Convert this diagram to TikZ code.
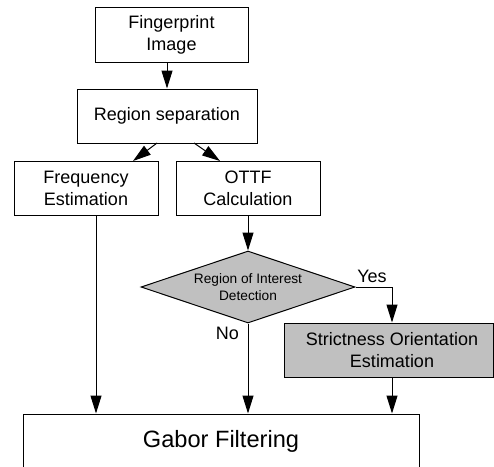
\documentclass[tikz,border=0pt]{standalone}
\usepackage{fontspec}
\setmainfont{Liberation Sans}
\usetikzlibrary{shapes.geometric,arrows.meta,calc}
\definecolor{boxgrey}{RGB}{192,192,192}
\begin{document}
\begin{tikzpicture}[x=1pt,y=-1pt,
  every node/.style={font=\fontsize{18}{22}\selectfont},
  stepbox/.style={draw, line width=1pt, align=center, inner sep=0pt, minimum width=#1, minimum height=54pt},
  decbox/.style={draw, line width=1pt, fill=boxgrey, diamond, aspect=3, inner sep=0pt,
    minimum width=214pt, minimum height=72pt, align=center, font=\fontsize{13.7}{16.5}\selectfont},
  conn/.style={line width=1pt, -{Triangle[length=18pt,width=11pt]}},
  lbl/.style={inner sep=0pt}
]
\clip (0,0) rectangle (494,466);
\node[stepbox=153pt, minimum height=55pt] (fp) at (171.5,34.5) {Fingerprint\\Image};
\node[stepbox=180pt] (rs) at (167,116) {Region separation};
\node[stepbox=144pt] (fe) at (86,188) {Frequency\\Estimation};
\node[stepbox=144pt] (ot) at (248,188) {OTTF\\Calculation};
\node[decbox] (roi) at (248,287) {Region of Interest\\Detection};
\node[stepbox=209pt, fill=boxgrey] (so) at (388.5,350) {\hspace*{7pt}Strictness Orientation\\\hspace*{7pt}Estimation};
\node[stepbox=396pt, font=\fontsize{23.6}{28}\selectfont] (gf) at (221,441) {Gabor Filtering};
\coordinate (yc) at (392,287);
\coordinate (fx) at (96,215);
\coordinate (r1) at (157,143);
\coordinate (r2) at (194,143);
\coordinate (t1) at (133,161);
\coordinate (t2) at (220,161);

\draw[conn] (fp.south -| rs.north) -- (rs.north);
\draw[conn] (r1) -- (t1);
\draw[conn] (r2) -- (t2);
\draw[conn] (fx) -- (fx |- gf.north);
\draw[conn] (ot.south) -- (roi.north);
\draw[conn] (roi.south) -- (roi.south |- gf.north);
\draw[conn] (roi.east) -- (yc) -- (yc |- so.north);
\draw[conn] (yc |- so.south) -- (yc |- gf.north);
\node[lbl] (yes) at (372,276) {Yes};
\node[lbl] (no) at (227.5,333) {No};
\end{tikzpicture}
\end{document}
